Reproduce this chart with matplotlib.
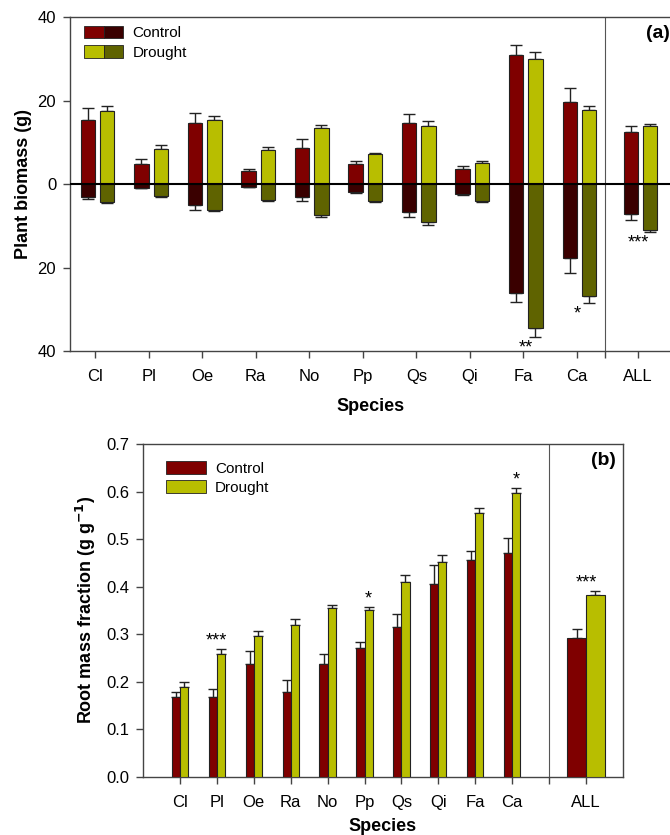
import numpy as np
import matplotlib
matplotlib.use("Agg")
import matplotlib.pyplot as plt
from matplotlib.legend_handler import HandlerTuple
from matplotlib.patches import Patch

plt.rcParams['font.family'] = ['Liberation Sans', 'DejaVu Sans']

species = ['Cl', 'Pl', 'Oe', 'Ra', 'No', 'Pp', 'Qs', 'Qi', 'Fa', 'Ca', 'ALL']

# panel (a): above ground (positive) and below ground (negative) biomass, g
ctrl_up = [15.3, 4.9, 14.5, 3.1, 8.7, 4.7, 14.5, 3.6, 30.8, 19.6, 12.5]
ctrl_up_err = [3.0, 1.1, 2.6, 0.5, 2.1, 0.9, 2.2, 0.7, 2.6, 3.4, 1.5]
drt_up = [17.5, 8.5, 15.4, 8.1, 13.4, 7.1, 13.8, 5.0, 29.9, 17.7, 13.8]
drt_up_err = [1.2, 0.8, 1.0, 0.7, 0.7, 0.3, 1.3, 0.5, 1.7, 1.0, 0.5]
ctrl_dn = [3.2, 0.9, 5.0, 0.6, 3.1, 1.9, 6.8, 2.5, 26.0, 17.8, 7.1]
ctrl_dn_err = [0.5, 0.1, 1.3, 0.2, 1.0, 0.2, 1.2, 0.1, 2.2, 3.4, 1.5]
drt_dn = [4.3, 2.9, 6.2, 3.9, 7.4, 4.1, 9.1, 4.0, 34.6, 26.9, 11.0]
drt_dn_err = [0.2, 0.1, 0.2, 0.1, 0.5, 0.1, 0.7, 0.2, 2.1, 1.6, 0.6]

# panel (b): root mass fraction, g g-1
rmf_ctrl = [0.169, 0.169, 0.237, 0.179, 0.238, 0.272, 0.316, 0.405, 0.457, 0.470, 0.293]
rmf_ctrl_err = [0.009, 0.015, 0.028, 0.025, 0.021, 0.012, 0.026, 0.041, 0.017, 0.032, 0.019]
rmf_drt = [0.190, 0.259, 0.297, 0.320, 0.355, 0.351, 0.410, 0.451, 0.555, 0.596, 0.383]
rmf_drt_err = [0.009, 0.011, 0.009, 0.013, 0.007, 0.007, 0.014, 0.015, 0.011, 0.012, 0.008]

sig_a = {8: '**', 9: '*', 10: '***'}
sig_b = {1: '***', 5: '*', 9: '*', 10: '***'}

c_red = '#7f0000'
c_red_dk = '#3a0000'
c_yel = '#b8be00'
c_yel_dk = '#5f6300'
edge = '#222222'
spine_c = '#444444'

fig = plt.figure(figsize=(6.7, 8.35), dpi=100)

# ---------------- panel (a)
ax1 = fig.add_axes([0.1045, 0.5796, 0.8965, 0.40])
xa = np.array(list(range(10)) + [10.14])
w = 0.27
xc = xa - w / 2
xd = xa + 0.09 + w / 2
bk = dict(width=w, edgecolor=edge, linewidth=0.8, zorder=3)
ek = dict(ecolor='#222222', elinewidth=1.0, capsize=4.5, capthick=1.0, zorder=2)
ax1.bar(xc, ctrl_up, color=c_red, yerr=[np.zeros(11), ctrl_up_err], error_kw=ek, **bk)
ax1.bar(xd, drt_up, color=c_yel, yerr=[np.zeros(11), drt_up_err], error_kw=ek, **bk)
ax1.bar(xc, -np.array(ctrl_dn), color=c_red_dk, yerr=[ctrl_dn_err, np.zeros(11)], error_kw=ek, **bk)
ax1.bar(xd, -np.array(drt_dn), color=c_yel_dk, yerr=[drt_dn_err, np.zeros(11)], error_kw=ek, **bk)
ax1.axhline(0, color='black', lw=1.5, zorder=4)
for i, s in sig_a.items():
    y = -(drt_dn[i] + drt_dn_err[i]) - 0.6
    xs = xa[i] + (0.05 if i == 8 else 0.0)
    ax1.text(xs, y, s, ha='center', va='top', fontsize=13)
ax1.set_xlim(-0.47, 10.75)
ax1.set_ylim(-40, 40)
ax1.set_yticks([-40, -20, 0, 20, 40])
ax1.set_yticklabels(['40', '20', '0', '20', '40'])
ax1.set_xticks(xa)
ax1.set_xticklabels(species)
ax1.set_xticks([9.52], minor=True)
ax1.axvline(9.52, color='#555555', lw=0.8, zorder=1)
ax1.set_ylabel('Plant biomass (g)', fontsize=13, fontweight='bold', labelpad=4)
ax1.set_xlabel('Species', fontsize=13, fontweight='bold', labelpad=10)
ax1.text(0.998, 0.975, '(a)', transform=ax1.transAxes, ha='right', va='top',
         fontsize=14, fontweight='bold')
leg_h = [(Patch(fc=c_red, ec=edge, lw=0.6), Patch(fc=c_red_dk, ec=edge, lw=0.6)),
         (Patch(fc=c_yel, ec=edge, lw=0.6), Patch(fc=c_yel_dk, ec=edge, lw=0.6))]
ax1.legend(leg_h, ['Control', 'Drought'], handler_map={tuple: HandlerTuple(ndivide=None, pad=0)},
           loc='upper left', bbox_to_anchor=(0.0, 1.015), frameon=False, fontsize=11,
           handlelength=2.6, handleheight=0.9, handletextpad=0.6, labelspacing=0.3)

# ---------------- panel (b)
ax2 = fig.add_axes([0.2134, 0.0695, 0.7164, 0.3988])
xb = np.array(list(range(10)) + [11])
wb = np.array([0.22] * 10 + [0.51])
ax2.bar(xb - wb / 2, rmf_ctrl, width=wb, color=c_red, edgecolor=edge, linewidth=0.8, zorder=3,
        yerr=[np.zeros(11), rmf_ctrl_err], error_kw=dict(ek, capsize=3.5))
ax2.bar(xb + wb / 2, rmf_drt, width=wb, color=c_yel, edgecolor=edge, linewidth=0.8, zorder=3,
        yerr=[np.zeros(11), rmf_drt_err], error_kw=dict(ek, capsize=3.5))
for i, s in sig_b.items():
    y = rmf_drt[i] + rmf_drt_err[i] - 0.002
    xs = xb[i] + (wb[i] / 2 if i not in (1, 10) else 0.0)
    ax2.text(xs, y, s, ha='center', va='bottom', fontsize=13)
ax2.set_xlim(-1, 12)
ax2.set_ylim(0, 0.7)
ax2.set_yticks(np.arange(0, 0.71, 0.1))
ax2.set_yticklabels(['%.1f' % v for v in np.arange(0, 0.71, 0.1)])
ax2.set_xticks(xb)
ax2.set_xticklabels(species)
ax2.set_xticks([10], minor=True)
ax2.axvline(10, color='#555555', lw=0.8, zorder=1)
ax2.set_ylabel('Root mass fraction (g g$^{\\mathbf{-1}}$)', fontsize=13, fontweight='bold', labelpad=6)
ax2.set_xlabel('Species', fontsize=13, fontweight='bold', labelpad=6)
ax2.text(0.985, 0.975, '(b)', transform=ax2.transAxes, ha='right', va='top',
         fontsize=14, fontweight='bold')
ax2.legend([Patch(fc=c_red, ec=edge, lw=0.6), Patch(fc=c_yel, ec=edge, lw=0.6)],
           ['Control', 'Drought'], loc='upper left', bbox_to_anchor=(0.02, 0.99),
           frameon=False, fontsize=11, handlelength=2.6, handleheight=0.9,
           handletextpad=0.6, labelspacing=0.3)

for ax in (ax1, ax2):
    for sp in ax.spines.values():
        sp.set_color(spine_c)
        sp.set_linewidth(1.0)
    ax.tick_params(which='both', direction='out', color=spine_c, width=1.0, length=5,
                   labelsize=12, pad=5)
    ax.tick_params(axis='x', pad=8)
ax1.spines['right'].set_visible(False)

fig.savefig('out.png', dpi=100)
